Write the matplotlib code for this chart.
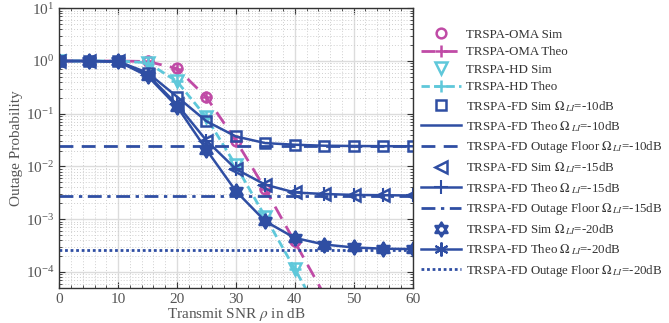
import matplotlib
matplotlib.use("Agg")
import matplotlib.pyplot as plt
from matplotlib.path import Path
from matplotlib.ticker import LogLocator, NullFormatter, MultipleLocator
import numpy as np

plt.rcParams['font.family'] = ['Liberation Serif', 'DejaVu Serif']
plt.rcParams['mathtext.fontset'] = 'stix'

# transmit SNR in dB
snr = [0, 5, 10, 15, 20, 25, 30, 35, 40, 45, 50, 55, 60]
snr_sim_hd = [0, 15, 20, 25, 30, 35, 40]

# OMA / HD benchmarks
oma_sim = [1.0, 0.98, 0.73, 0.21, 0.031, 0.0038, 0.00038]
oma_theo = [1.0, 1.0, 1.0, 0.98, 0.72, 0.205, 0.031, 0.0037, 0.00037, 0.000037, 0.0000037,
            3.7e-7, 3.7e-8]
hd_sim = [1.0, 0.93, 0.42, 0.086, 0.0105, 0.00112, 0.000115]
hd_theo = [1.0, 1.0, 1.0, 0.93, 0.41, 0.085, 0.0104, 0.0011, 0.000113, 0.0000115, 1.15e-6,
           1.15e-7, 1.15e-8]

# full-duplex, three loop-interference levels
fd10_sim = [1.0, 1.0, 0.98, 0.6, 0.21, 0.073, 0.037, 0.0277, 0.0258, 0.0247, 0.0244, 0.0242, 0.0241]
fd10_theo = [1.0, 1.0, 0.98, 0.6, 0.21, 0.072, 0.037, 0.0277, 0.0258, 0.0247, 0.0244, 0.0242, 0.0241]
fd10_floor = 0.024
fd15_sim = [1.0, 1.0, 0.98, 0.55, 0.15, 0.031, 0.0089, 0.0045, 0.0032, 0.0030, 0.00288, 0.00284, 0.00281]
fd15_theo = [1.0, 1.0, 0.98, 0.55, 0.15, 0.031, 0.0089, 0.0045, 0.0032, 0.0030, 0.00288, 0.00284, 0.00281]
fd15_floor = 0.0028
fd20_sim = [1.0, 1.0, 0.98, 0.52, 0.137, 0.0207, 0.0034, 0.00091, 0.00044, 0.00033, 0.00029, 0.000275, 0.00027]
fd20_theo = [1.0, 1.0, 0.98, 0.52, 0.137, 0.0207, 0.0034, 0.00091, 0.00044, 0.00033, 0.00029, 0.000275, 0.00027]
fd20_floor = 0.00026

magenta = '#C04BA6'
cyan = '#5FC8DA'
blue = '#2F4EA3'

# six-pointed star (two overlapping triangles)
a = np.deg2rad([90, 210, 330])
b = np.deg2rad([270, 30, 150])
verts = [(np.cos(t), np.sin(t)) for t in a] + [(0, 0)] + [(np.cos(t), np.sin(t)) for t in b] + [(0, 0)]
codes = [Path.MOVETO, Path.LINETO, Path.LINETO, Path.CLOSEPOLY] * 2
hexagram = Path(verts, codes)

fig = plt.figure(figsize=(6.69, 3.23), dpi=100)
ax = fig.add_axes([0.0886, 0.1093, 0.528, 0.865])

ax.plot(snr_sim_hd, oma_sim, 'o', color=magenta, ms=7, mfc='none', mew=1.8, ls='none', label='TRSPA-OMA Sim')
ax.plot(snr, oma_theo, color=magenta, ls=(0, (5, 3)), lw=2, marker='+', ms=8, mew=1.8, label='TRSPA-OMA Theo')
ax.plot(snr_sim_hd, hd_sim, 'v', color=cyan, ms=9, mfc='none', mew=1.8, ls='none', label='TRSPA-HD Sim')
ax.plot(snr, hd_theo, color=cyan, ls=(0, (3, 1.5)), lw=2, marker='+', ms=8, mew=1.8, label='TRSPA-HD Theo')

ax.plot(snr, fd10_sim, 's', color=blue, ms=7, mfc='none', mew=1.8, ls='none',
        label=r'TRSPA-FD Sim $\Omega\,_{LI}$=-10dB')
ax.plot(snr, fd10_theo, color=blue, lw=1.8, label=r'TRSPA-FD Theo $\Omega\,_{LI}$=-10dB')
ax.axhline(fd10_floor, color=blue, lw=2, ls=(0, (5, 3)), label=r'TRSPA-FD Outage Floor $\Omega\,_{LI}$=-10dB')

ax.plot(snr, fd15_sim, '<', color=blue, ms=9, mfc='none', mew=1.8, ls='none',
        label=r'TRSPA-FD Sim $\Omega\,_{LI}$=-15dB')
ax.plot(snr, fd15_theo, color=blue, lw=1.8, marker='+', ms=10, mew=1.5,
        label=r'TRSPA-FD Theo $\Omega\,_{LI}$=-15dB')
ax.axhline(fd15_floor, color=blue, lw=2, ls=(0, (5, 2, 1.2, 2)),
           label=r'TRSPA-FD Outage Floor $\Omega\,_{LI}$=-15dB')

ax.plot(snr, fd20_sim, marker=hexagram, color=blue, ms=10, mfc='none', mew=1.8, ls='none',
        label=r'TRSPA-FD Sim $\Omega\,_{LI}$=-20dB')
ax.plot(snr, fd20_theo, color=blue, lw=1.8, marker=(6, 2, 0), ms=10, mew=1.5,
        label=r'TRSPA-FD Theo $\Omega\,_{LI}$=-20dB')
ax.axhline(fd20_floor, color=blue, lw=2, ls=(0, (1, 1)),
           label=r'TRSPA-FD Outage Floor $\Omega\,_{LI}$=-20dB')

ax.set_yscale('log')
ax.set_xlim(0, 60)
ax.set_ylim(5e-5, 10)
ax.xaxis.set_major_locator(MultipleLocator(10))
ax.xaxis.set_minor_locator(MultipleLocator(2))
ax.yaxis.set_major_locator(LogLocator(base=10, numticks=10))
ax.yaxis.set_minor_locator(LogLocator(base=10, subs=np.arange(2, 10), numticks=20))
ax.yaxis.set_minor_formatter(NullFormatter())

ax.grid(True, which='major', color='#dcdcdc', lw=1.0, ls='-')
ax.grid(True, which='minor', color='#cfcfcf', lw=0.7, ls=(0, (1, 2)))
ax.set_axisbelow(True)

for s in ax.spines.values():
    s.set_color('#333333')
    s.set_linewidth(1.0)
ax.tick_params(which='both', direction='in', top=True, right=True, colors='#333333',
               labelcolor='#555555', labelsize=11)
ax.tick_params(which='major', length=4)
ax.tick_params(which='minor', length=2)

ax.set_xlabel(r'Transmit SNR $\rho$ in dB', fontsize=11, color='#555555', labelpad=0)
ax.set_ylabel('Outage Probability', fontsize=11, color='#555555', labelpad=2)

leg = ax.legend(loc='upper left', bbox_to_anchor=(1.01, 0.945), frameon=False, fontsize=9.3,
                handlelength=3.1, handletextpad=0.35, borderaxespad=0, labelspacing=0.42,
                numpoints=1, labelcolor='#333333')

fig.savefig('out.png', dpi=100)
